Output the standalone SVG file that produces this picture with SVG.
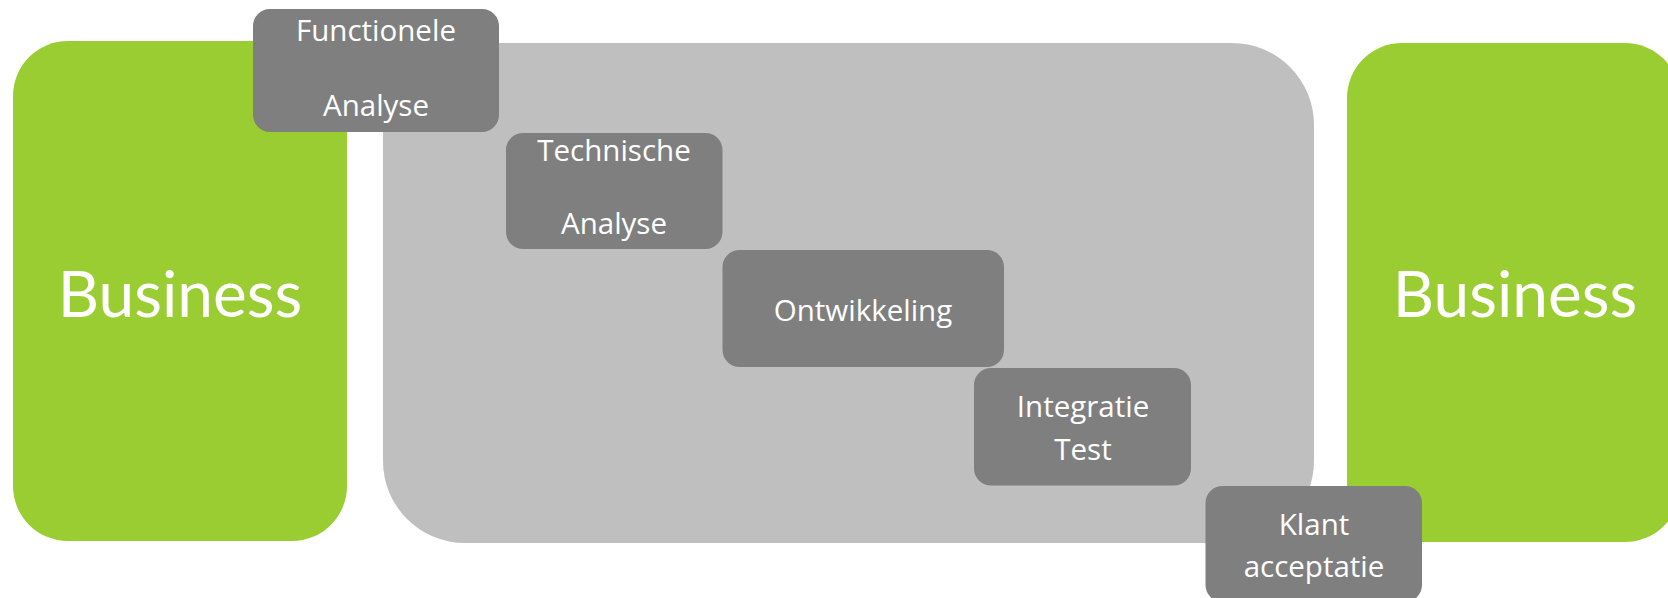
<svg xmlns="http://www.w3.org/2000/svg" width="1668" height="598" viewBox="0 0 1668 598">
<style>
.biz{fill:#9ACD32}
.phase{fill:#BFBFBF}
.step{fill:#7F7F7F}
.big{font-family:Lato,"Open Sans","Liberation Sans",sans-serif;font-size:64px;fill:#FFFFFF;text-anchor:middle}
.lbl{font-family:"Open Sans","Noto Sans","Liberation Sans",sans-serif;font-size:29.5px;fill:#FFFFFF;text-anchor:middle}
</style>
<rect width="1668" height="598" fill="#FFFFFF"/>
<g id="business-left">
<rect class="biz" x="13" y="41" width="334" height="500" rx="55" ry="55"/>
<text class="big" x="180" y="316.5">Business</text>
</g>
<g id="it-area">
<rect class="phase" x="383" y="43" width="931" height="500" rx="82" ry="82"/>
</g>
<g id="business-right">
<rect class="biz" x="1347" y="43" width="333" height="499" rx="55" ry="55"/>
<text class="big" x="1515" y="316.5">Business</text>
</g>
<g id="functionele-analyse">
<rect class="step" x="253" y="9" width="246" height="123" rx="17" ry="17"/>
<text class="lbl" x="376" y="40.5">Functionele</text>
<text class="lbl" x="376" y="115.5">Analyse</text>
</g>
<g id="technische-analyse">
<rect class="step" x="506" y="133" width="216.5" height="116" rx="17" ry="17"/>
<text class="lbl" x="614" y="160.5">Technische</text>
<text class="lbl" x="614" y="234">Analyse</text>
</g>
<g id="ontwikkeling">
<rect class="step" x="722.5" y="250" width="281.5" height="117" rx="17" ry="17"/>
<text class="lbl" x="863" y="320.5">Ontwikkeling</text>
</g>
<g id="integratie-test">
<rect class="step" x="974" y="368" width="217" height="117.5" rx="17" ry="17"/>
<text class="lbl" x="1083" y="417">Integratie</text>
<text class="lbl" x="1083" y="460">Test</text>
</g>
<g id="klant-acceptatie">
<rect class="step" x="1205.5" y="486" width="216.5" height="116" rx="17" ry="17"/>
<text class="lbl" x="1314" y="535">Klant</text>
<text class="lbl" x="1314" y="577">acceptatie</text>
</g>
<g id="connectors"></g>
</svg>
